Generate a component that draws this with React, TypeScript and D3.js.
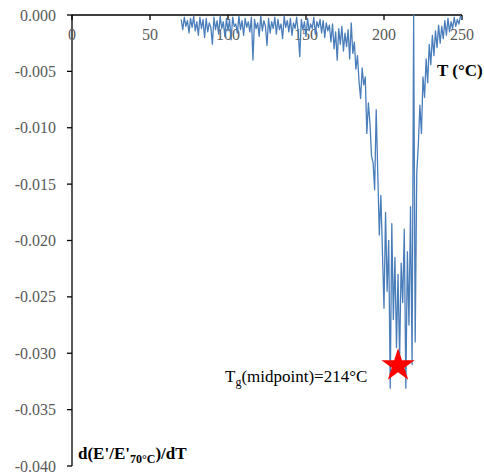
import React from 'react';
import * as d3 from 'd3';

// temperature grid (°C) and derivative values in units of 1e-3 per °C
const temps: number[] = d3.range(70, 251, 1);
const dEdT_milli: number[] = [
  -0.4, -1.3, -0.2, -1.0, -0.5, -1.6, -0.3, -1.1, -0.1, -1.4,
  -0.6, -1.8, -0.2, -1.2, -0.4, -2.0, -0.3, -1.5, -0.7, -1.1,
  -2.6, -0.2, -1.3, -0.5, -1.7, -0.1, -1.2, -0.6, -1.9, -0.3,
  -1.4, -0.4, -2.2, -0.2, -1.0, -0.8, -1.6, -0.1, -1.3, -0.5,
  -1.8, -0.3, -1.1, -0.6, -1.5, -0.2, -4.0, -0.4, -1.2, -0.7,
  -1.9, -0.1, -1.4, -0.5, -1.0, -2.7, -0.3, -1.6, -0.6, -1.2,
  -0.2, -1.7, -0.4, -1.3, -0.8, -2.1, -0.1, -1.1, -0.5, -1.5,
  -0.3, -1.8, -0.7, -1.2, -0.2, -1.6, -3.7, -0.4, -1.3, -0.6,
  -1.9, -0.3, -1.4, -0.8, -1.2, -0.2, -1.7, -0.6, -1.1, -0.4,
  -1.6, -0.5, -2.0, -0.7, -1.4, -0.9, -2.4, -0.8, -3.0, -1.5,
  -4.0, -1.2, -2.6, -1.0, -3.2, -1.6, -2.8, -1.3, -3.9, -0.7,
  -3.4, -2.4, -4.8, -3.6, -5.9, -7.4, -4.7, -6.2, -5.5, -10.5,
  -7.8, -9.6, -12.5, -13.1, -15.5, -8.4, -14.0, -19.5, -16.0, -21.0,
  -26.0, -17.5, -24.5, -20.0, -33.1, -18.5, -27.0, -21.5, -29.5, -23.0,
  -30.5, -22.0, -25.5, -19.0, -33.1, -21.0, -27.5, -17.0, -31.0, 0,
  -29.0, -14.0, -11.5, -8.0, -10.5, -5.5, -7.3, -3.9, -6.0, -2.6,
  -4.4, -1.8, -3.6, -1.4, -2.9, -0.9, -2.5, -1.0, -2.1, -0.5,
  -1.8, -0.3, -1.5, -0.6, -1.2, -0.2, -1.0, -0.4, -0.8, -0.1,
  -0.3,
];

const xTicks = [0, 50, 100, 150, 200, 250];
const yTicks = [0, -0.005, -0.01, -0.015, -0.02, -0.025, -0.03, -0.035, -0.04];

// midpoint marker
const tgPoint = { T: 209, value: -0.0311 };

const W = 484;
const H = 476;
const serif = "'Liberation Serif', 'Times New Roman', serif";

export default function App() {
  const x = d3.scaleLinear().domain([0, 250]).range([72, 462]);
  const y = d3.scaleLinear().domain([-0.04, 0]).range([466, 15]);

  const points = temps.map((t, i) => ({ t, v: dEdT_milli[i] / 1000 }));
  const line = d3.line<{ t: number; v: number }>()
    .x(d => x(d.t))
    .y(d => y(d.v));

  const star = d3.symbol().type(d3.symbolStar).size(340)();

  return (
    <svg width={W} height={H} style={{ position: 'absolute', left: 0, top: 0, background: '#fff', fontFamily: serif }}>
      {/* y axis */}
      <line x1={x(0)} x2={x(0)} y1={y(0)} y2={y(-0.04)} stroke="#000" strokeWidth={1.3} />
      {yTicks.map(t => (
        <g key={t}>
          <line x1={x(0) - 5} x2={x(0)} y1={y(t)} y2={y(t)} stroke="#000" strokeWidth={1.3} />
          <text x={56} y={y(t)} dy="0.35em" textAnchor="end" style={{ fontFamily: serif, fontSize: 16 }} fill="#595959">
            {d3.format('.3f')(t).replace('−', '-')}
          </text>
        </g>
      ))}

      {/* x axis at top */}
      <line x1={x(0)} x2={x(250)} y1={y(0)} y2={y(0)} stroke="#000" strokeWidth={1.3} />
      {xTicks.map(t => (
        <g key={t}>
          <line x1={x(t)} x2={x(t)} y1={y(0)} y2={y(0) + 5} stroke="#000" strokeWidth={1.3} />
          <text x={x(t)} y={40} textAnchor="middle" style={{ fontFamily: serif, fontSize: 16 }} fill="#595959">
            {t}
          </text>
        </g>
      ))}

      {/* data */}
      <path d={line(points) ?? ''} fill="none" stroke="#4a7ebb" strokeWidth={1.3} strokeLinejoin="round" />

      {/* axis titles */}
      <text x={437} y={76} style={{ fontFamily: serif, fontSize: 17, fontWeight: 'bold' }} fill="#000">T (°C)</text>
      <text x={78} y={459} style={{ fontFamily: serif, fontSize: 17, fontWeight: 'bold' }} fill="#000">
        d(E'/E'<tspan style={{ fontSize: 12 }} dy={4}>70°C</tspan><tspan dy={-4}>)/dT</tspan>
      </text>

      {/* midpoint annotation */}
      <path d={star ?? ''} transform={`translate(${x(tgPoint.T)},${y(tgPoint.value)})`} fill="#ff0000" />
      <text x={225} y={382} style={{ fontFamily: serif, fontSize: 17 }} fill="#000">
        T<tspan style={{ fontSize: 12 }} dy={4}>g</tspan><tspan dy={-4}>(midpoint)=214°C</tspan>
      </text>
    </svg>
  );
}
